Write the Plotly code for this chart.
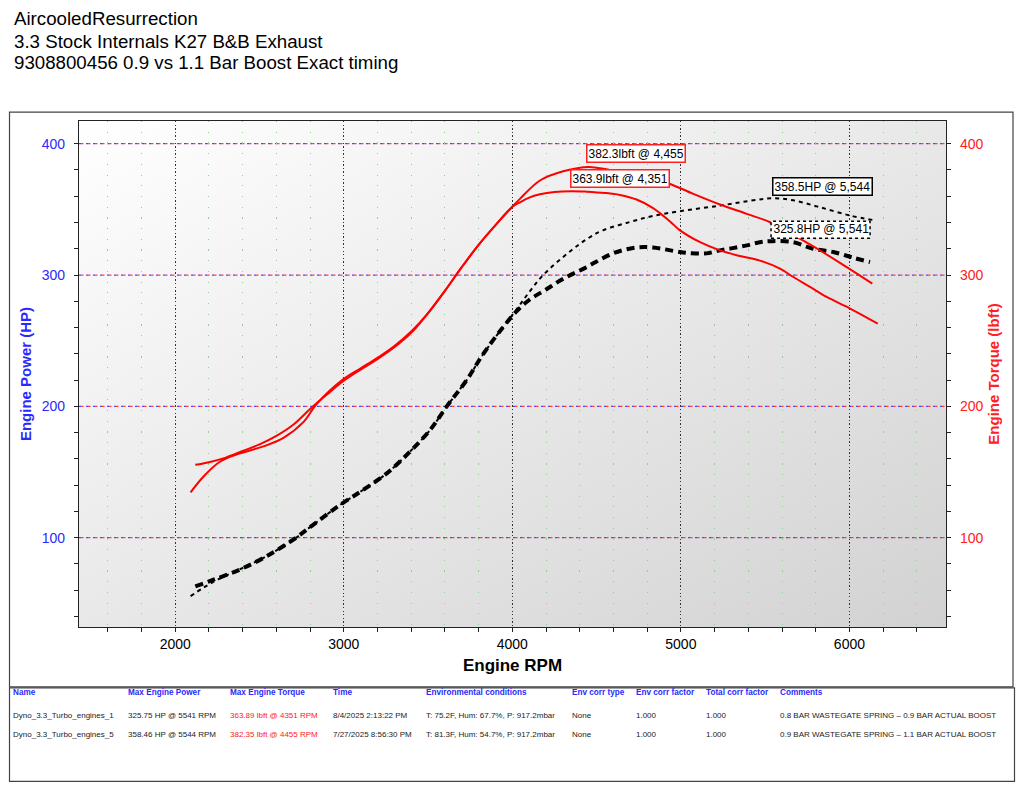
import base64

import plotly.graph_objects as go

# ---- data ----
title_lines = [
    "AircooledResurrection",
    "3.3 Stock Internals K27 B&B Exhaust",
    "9308800456 0.9 vs 1.1 Bar Boost Exact timing",
]

# run 1: 0.8 bar spring (0.9 bar actual)
rpm_tq_1 = [2119, 2200, 2300, 2400, 2500, 2600, 2700, 2800, 2900, 3000, 3100, 3200,
            3300, 3400, 3500, 3600, 3700, 3800, 3900, 4000, 4045, 4100, 4164, 4250,
            4351, 4440, 4550, 4638, 4737, 4835, 4934, 4995, 5114, 5232, 5350, 5469,
            5588, 5667, 5766, 5865, 6004, 6168]
tq_1 = [155.5, 157.5, 161, 166, 171, 177.5, 186, 198, 209, 219.5, 228, 236,
        245, 256, 271, 288, 306, 323, 338, 352, 355.4, 359, 361.5, 363.3,
        363.9, 363.5, 362.5, 361, 357.5, 351, 341, 334, 325, 318.8, 314.5, 311,
        304.9, 298.5, 291, 283.3, 274.5, 263]

rpm_hp_1 = [2119, 2227, 2385, 2543, 2701, 2820, 2978, 3116, 3255, 3393, 3512, 3611,
            3729, 3828, 3946, 4026, 4100, 4200, 4300, 4440, 4597, 4737, 4834, 4994,
            5054, 5152, 5232, 5308, 5391, 5468, 5541, 5667, 5786, 5905, 6023, 6122]
hp_1 = [63, 68, 75.8, 86, 98.6, 110, 125, 136.5, 149, 165.6, 182, 200,
        220, 240, 260.5, 272.5, 281, 289, 297, 306, 316.5, 321, 321, 317.5,
        316.7, 316.5, 318.8, 320.5, 322.6, 325, 325.8, 325, 320, 317.5, 313.2, 309.9]

# run 5: 0.9 bar spring (1.1 bar actual)
rpm_tq_5 = [2091, 2168, 2267, 2366, 2523, 2642, 2760, 2840, 3000, 3100, 3200, 3300,
            3400, 3500, 3600, 3700, 3800, 3900, 4000, 4045, 4164, 4302, 4455, 4579,
            4760, 4916, 5074, 5232, 5391, 5529, 5687, 5826, 5984, 6136]
tq_5 = [134.5, 146.6, 158, 163.5, 169.5, 176, 188, 202, 221, 229, 237, 246,
        257, 271, 288, 306, 323, 338, 352, 358, 372, 379, 382.3, 380,
        377.5, 370.5, 361.8, 353.7, 346.6, 340.2, 329, 318.7, 306, 293.4]

rpm_hp_5 = [2091, 2168, 2250, 2385, 2543, 2701, 2820, 2978, 3116, 3255, 3393, 3512,
            3611, 3729, 3828, 3946, 4026, 4100, 4183, 4342, 4450, 4537, 4700, 4834,
            4994, 5232, 5430, 5544, 5667, 5826, 6004, 6136]
hp_5 = [55.5, 62, 68, 76, 86, 98.6, 110, 125, 136.5, 149, 165.6, 182,
        200, 220, 240, 260.5, 274, 287, 300, 318, 328, 334, 340.5, 345,
        348.6, 352.9, 356.9, 358.5, 356.9, 351.6, 345.3, 342]

# peak labels
peak_tq = [(4455, 382.3), (4351, 363.9)]
peak_hp = [(5544, 358.5), (5541, 325.8)]

y_ticks = [100, 200, 300, 400]

table_cols = ["Name", "Max Engine Power", "Max Engine Torque", "Time",
              "Environmental conditions", "Env corr type", "Env corr factor",
              "Total corr factor", "Comments"]
table_row_1 = ["Dyno_3.3_Turbo_engines_1", "325.75 HP @ 5541 RPM", "363.89 lbft @ 4351 RPM",
               "8/4/2025 2:13:22 PM", "T: 75.2F, Hum: 67.7%, P: 917.2mbar", "None",
               "1.000", "1.000", "0.8 BAR WASTEGATE SPRING \u2013 0.9 BAR ACTUAL BOOST"]
table_row_5 = ["Dyno_3.3_Turbo_engines_5", "358.46 HP @ 5544 RPM", "382.35 lbft @ 4455 RPM",
               "7/27/2025 8:56:30 PM", "T: 81.3F, Hum: 54.7%, P: 917.2mbar", "None",
               "1.000", "1.000", "0.9 BAR WASTEGATE SPRING \u2013 1.1 BAR ACTUAL BOOST"]

# ---- layout helpers ----
# positions below are page pixels; the page body adds an 8px margin round the figure
OFF = 8
W, H = 1024 - 2 * OFF, 791 - 2 * OFF
PL, PR, PT, PB = 79, 946, 120.5, 627   # plot area on the page


def px(x):
    return (x - PL) / (PR - PL)


def py(y):
    return (PB - y) / (PB - PT)


FONT = "Liberation Sans, Arial, sans-serif"
BLUE = "#2a2aff"
RED = "#ff2020"
X_RANGE = [1429, 6573]
Y_RANGE = [32, 417.3]

fig = go.Figure()

fig.add_trace(go.Scatter(x=rpm_tq_1, y=tq_1, yaxis="y2", mode="lines",
                         line=dict(color="#ff0000", width=2, shape="spline"),
                         name="Torque run 1"))
fig.add_trace(go.Scatter(x=rpm_tq_5, y=tq_5, yaxis="y2", mode="lines",
                         line=dict(color="#ff0000", width=2, shape="spline"),
                         name="Torque run 5"))
fig.add_trace(go.Scatter(x=rpm_hp_1, y=hp_1, mode="lines",
                         line=dict(color="black", width=4, dash="8px,5px", shape="spline"),
                         name="Power run 1"))
fig.add_trace(go.Scatter(x=rpm_hp_5, y=hp_5, mode="lines",
                         line=dict(color="black", width=2, dash="4px,4px", shape="spline"),
                         name="Power run 5"))

# gradient plot background
svg = ('<svg xmlns="http://www.w3.org/2000/svg" width="200" height="200" '
       'preserveAspectRatio="none"><defs><linearGradient id="g" x1="0" y1="0" '
       'x2="1" y2="1"><stop offset="0" stop-color="#ffffff"/>'
       '<stop offset="1" stop-color="#d2d2d2"/></linearGradient></defs>'
       '<rect width="200" height="200" fill="url(#g)"/></svg>')
bg_src = "data:image/svg+xml;base64," + base64.b64encode(svg.encode()).decode()

shapes = []
# blue/red alternating dashed horizontal grid
for t in y_ticks:
    shapes.append(dict(type="line", xref="paper", yref="y", x0=0, x1=1, y0=t, y1=t,
                       line=dict(color="#4848ff", width=1.2, dash="2px,5px"),
                       layer="between"))
    shapes.append(dict(type="line", xref="paper", yref="y", x0=0, x1=1, y0=t, y1=t,
                       line=dict(color="#ff4040", width=1.2, dash="0px,2px,2.5px,2.5px"),
                       layer="between"))
# outer frames
shapes.append(dict(type="rect", xref="paper", yref="paper",
                   x0=px(9.5), x1=px(1013), y0=py(687), y1=py(111.7),
                   line=dict(color="#444", width=1.2), layer="below"))
shapes.append(dict(type="rect", xref="paper", yref="paper",
                   x0=px(9.5), x1=px(1014.5), y0=py(781.5), y1=py(688),
                   line=dict(color="#444", width=1.2), layer="below"))

annotations = []
for i, line in enumerate(title_lines):
    annotations.append(dict(text=line, xref="paper", yref="paper", x=px(12),
                            y=py([18, 41, 62][i]), xanchor="left", yanchor="middle",
                            showarrow=False, font=dict(size=18.7, color="black", family=FONT)))

tq_shift = [(-3, 4), (-1, 3)]
for (r, v), (dx, dy) in zip(peak_tq, tq_shift):
    annotations.append(dict(text=f"{v:.1f}lbft @ {r:,}", x=r, y=v, xref="x", yref="y2",
                            xanchor="left", yanchor="bottom", xshift=dx, yshift=dy,
                            showarrow=False, bgcolor="white", bordercolor="#ff2020",
                            borderwidth=1.5, borderpad=1,
                            font=dict(size=12, color="black", family=FONT)))

# solid box for run 5, dotted box for run 1
r, v = peak_hp[0]
annotations.append(dict(text=f"{v:.1f}HP @ {r:,}", x=r, y=v, xref="x", yref="y",
                        xanchor="left", yanchor="bottom", xshift=-1, yshift=2,
                        showarrow=False, bgcolor="white", bordercolor="black",
                        borderwidth=1.5, borderpad=1,
                        font=dict(size=12, color="black", family=FONT)))
r, v = peak_hp[1]
shapes.append(dict(type="rect", xref="x", yref="y", xsizemode="pixel", ysizemode="pixel",
                   xanchor=r, yanchor=v, x0=-1, x1=98, y0=3, y1=20,
                   line=dict(color="black", width=1.5, dash="dot"), fillcolor="white",
                   layer="above"))
annotations.append(dict(text=f"{v:.1f}HP @ {r:,}", x=r, y=v, xref="x", yref="y",
                        xanchor="left", yanchor="bottom", xshift=-1, yshift=3,
                        showarrow=False, borderpad=1, borderwidth=1.5,
                        font=dict(size=12, color="black", family=FONT)))

# results table
col_x = [11, 126, 228, 331, 424, 570, 634, 704, 778]
for cx, txt in zip(col_x, table_cols):
    annotations.append(dict(text=f"<b>{txt}</b>", xref="paper", yref="paper", x=px(cx),
                            y=py(693), xanchor="left", yanchor="middle", showarrow=False,
                            font=dict(size=8.2, color=BLUE, family=FONT)))
for row, ry in ((table_row_1, 715.5), (table_row_5, 734.3)):
    for j, (cx, txt) in enumerate(zip(col_x, row)):
        annotations.append(dict(text=txt, xref="paper", yref="paper", x=px(cx), y=py(ry),
                                xanchor="left", yanchor="middle", showarrow=False,
                                font=dict(size=8, color=RED if j == 2 else "#222",
                                          family=FONT)))

fig.update_layout(
    width=W, height=H,
    margin=dict(l=PL - OFF, r=W - (PR - OFF), t=PT - OFF, b=H - (PB - OFF)),
    paper_bgcolor="white", plot_bgcolor="rgba(0,0,0,0)",
    showlegend=False,
    font=dict(family=FONT),
    images=[dict(source=bg_src, xref="paper", yref="paper", x=0, y=1, sizex=1, sizey=1,
                 xanchor="left", yanchor="top", sizing="stretch", layer="below")],
    shapes=shapes,
    annotations=annotations,
    xaxis=dict(
        range=X_RANGE, dtick=1000, tick0=0, showline=True, linecolor="#222", linewidth=1.2,
        mirror=True, ticks="outside", ticklen=4, tickcolor="#222",
        tickfont=dict(size=14, color="black"),
        showgrid=True, gridcolor="#333", gridwidth=1.4, griddash="1.3px,2.3px",
        zeroline=False,
        minor=dict(dtick=200, ticks="outside", ticklen=4, tickcolor="#222",
                   showgrid=True, gridcolor="#8fd18f", gridwidth=1.2,
                   griddash="1.2px,9.5px"),
        title=dict(text="<b>Engine RPM</b>", font=dict(size=17, color="black"), standoff=8),
    ),
    yaxis=dict(
        range=Y_RANGE, tickvals=y_ticks, showline=True, linecolor="#222", linewidth=1.2,
        ticks="outside", ticklen=4, tickcolor="#222", ticklabelstandoff=6,
        tickfont=dict(size=14, color=BLUE),
        showgrid=False, zeroline=False,
        minor=dict(dtick=20, tick0=0, ticks="outside", ticklen=4, tickcolor="#222",
                   showgrid=False),
        title=dict(text="<b>Engine Power (HP)</b>", font=dict(size=15, color=BLUE),
                   standoff=6),
    ),
    yaxis2=dict(
        range=Y_RANGE, tickvals=y_ticks, overlaying="y", side="right", showline=True,
        linecolor="#222", linewidth=1.2, ticks="outside", ticklen=4, tickcolor="#222",
        ticklabelstandoff=6, tickfont=dict(size=14, color=RED), showgrid=False,
        zeroline=False,
        minor=dict(dtick=20, tick0=0, ticks="outside", ticklen=4, tickcolor="#222",
                   showgrid=False),
        title=dict(text="<b>Engine Torque (lbft)</b>", font=dict(size=15, color=RED),
                   standoff=6),
    ),
)

fig.write_html("out.html")
